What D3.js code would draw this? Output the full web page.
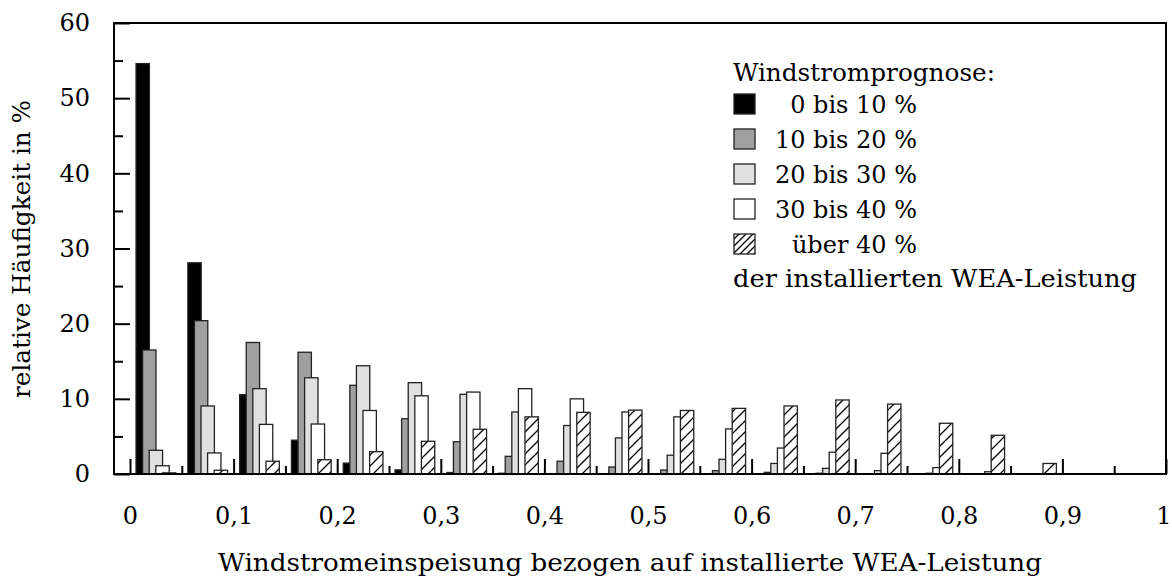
<!DOCTYPE html>
<html>
<head>
<meta charset="utf-8">
<script src="https://cdn.jsdelivr.net/npm/d3@7"></script>
<style>
  body { margin: 0; background: #fff; }
  svg { display: block; font-family: 'DejaVu Serif', serif; }
</style>
</head>
<body>
<svg width="1172" height="582"></svg>
<script>
'use strict';

// class centres of the 0.05-wide bins
var binCenters = [0.025, 0.075, 0.125, 0.175, 0.225, 0.275, 0.325, 0.375, 0.425, 0.475,
                  0.525, 0.575, 0.625, 0.675, 0.725, 0.775, 0.825, 0.875, 0.925, 0.975];

var seriesNames = ['0 bis 10 %', '10 bis 20 %', '20 bis 30 %', '30 bis 40 %', 'über 40 %'];

var prog0to10  = [54.6, 28.1, 10.55, 4.5, 1.45, 0.55, 0.2, 0.1, 0, 0, 0, 0, 0, 0, 0, 0, 0, 0, 0, 0];
var prog10to20 = [16.5, 20.4, 17.5, 16.2, 11.8, 7.35, 4.3, 2.35, 1.7, 0.93, 0.53, 0.45, 0.22, 0.1, 0, 0, 0, 0, 0, 0];
var prog20to30 = [3.15, 9.05, 11.35, 12.8, 14.4, 12.15, 10.6, 8.25, 6.45, 4.8, 2.5, 1.95, 1.4, 0.75, 0.45, 0.1, 0, 0, 0, 0];
var prog30to40 = [1.1, 2.8, 6.6, 6.65, 8.45, 10.4, 10.9, 11.35, 10.0, 8.25, 7.6, 6.0, 3.45, 2.9, 2.75, 0.85, 0.3, 0, 0, 0];
var progOver40 = [0.15, 0.5, 1.7, 1.9, 2.97, 4.35, 5.95, 7.6, 8.2, 8.5, 8.45, 8.73, 9.05, 9.85, 9.3, 6.75, 5.15, 1.4, 0, 0];

var allSeries = [prog0to10, prog10to20, prog20to30, prog30to40, progOver40];

var xMajorTicks = [0, 0.1, 0.2, 0.3, 0.4, 0.5, 0.6, 0.7, 0.8, 0.9, 1];
var xTickLabels = ['0', '0,1', '0,2', '0,3', '0,4', '0,5', '0,6', '0,7', '0,8', '0,9', '1'];
var xMinorTicks = [0.05, 0.15, 0.25, 0.35, 0.45, 0.55, 0.65, 0.75, 0.85, 0.95];
var yMajorTicks = [0, 10, 20, 30, 40, 50, 60];
var yMinorTicks = [5, 15, 25, 35, 45, 55];

var FILLS = ['#000', '#a0a0a0', '#e0e0e0', '#fff', 'url(#hatch)'];
var BOX = { left: 114, right: 1166, top: 23, bottom: 474 };
var BAR_WIDTH = 0.0129;   // in x units
var BAR_STEP = 0.00636;   // offset between overlapping bars
var FONT = 24;

var svg = d3.select('svg');

var x = d3.scaleLinear().domain([0, 1]).range([130, BOX.right]);
var y = d3.scaleLinear().domain([0, 60]).range([BOX.bottom, BOX.top]);

var defs = svg.append('defs');

function addHatch(id, size) {
    var p = defs.append('pattern')
        .attr('id', id)
        .attr('patternUnits', 'userSpaceOnUse')
        .attr('width', size)
        .attr('height', size);
    p.append('rect').attr('width', size).attr('height', size).attr('fill', '#fff');
    p.append('path')
        .attr('d', 'M0,' + size + 'L' + size + ',0M-2,2L2,-2M' + (size - 2) + ',' + (size + 2) + 'L' + (size + 2) + ',' + (size - 2))
        .attr('stroke', '#000')
        .attr('stroke-width', 1.3);
}
addHatch('hatch', 11);
addHatch('hatchSmall', 7);

// bars, series by series so later ones overlap the earlier ones
allSeries.forEach(function(values, s) {
    var rows = values.map(function(v, i) { return { c: binCenters[i], v: v }; })
        .filter(function(d) { return d.v > 0; });

    svg.append('g')
        .selectAll('rect')
        .data(rows)
        .enter()
        .append('rect')
        .attr('x', function(d) { return x(d.c + (s - 2) * BAR_STEP - BAR_WIDTH / 2); })
        .attr('width', function(d) { return x(BAR_WIDTH) - x(0); })
        .attr('y', function(d) { return y(d.v); })
        .attr('height', function(d) { return y(0) - y(d.v); })
        .attr('fill', FILLS[s])
        .attr('stroke', '#222')
        .attr('stroke-width', 1.3);
});

// x axis: major ticks with labels, minor ticks without
var axisX = d3.axisBottom(x)
    .tickValues(xMajorTicks)
    .tickSize(-15)
    .tickPadding(33)
    .tickFormat(function(d, i) { return xTickLabels[i]; });

var axisXMinor = d3.axisBottom(x)
    .tickValues(xMinorTicks)
    .tickSize(-8)
    .tickFormat('');

var axisY = d3.axisLeft(y)
    .tickValues(yMajorTicks)
    .tickSize(-16)
    .tickPadding(24);

var axisYMinor = d3.axisLeft(y)
    .tickValues(yMinorTicks)
    .tickSize(-9)
    .tickFormat('');

[[axisX, 'translate(0,' + BOX.bottom + ')'], [axisXMinor, 'translate(0,' + BOX.bottom + ')'],
 [axisY, 'translate(' + BOX.left + ',0)'], [axisYMinor, 'translate(' + BOX.left + ',0)']].forEach(function(a) {
    var g = svg.append('g').attr('transform', a[1]).call(a[0]);
    g.select('.domain').remove();
    g.selectAll('line').attr('stroke', '#000').attr('stroke-width', 2);
    g.selectAll('text')
        .attr('fill', '#000')
        .style('font-family', "'DejaVu Serif', serif")
        .style('font-size', FONT + 'px');
});

// the last x label sits at the page edge, keep it inside
svg.selectAll('.tick text')
    .filter(function(d) { return d === 1; })
    .attr('text-anchor', 'end')
    .attr('x', 5);

// frame
svg.append('rect')
    .attr('x', BOX.left)
    .attr('y', BOX.top)
    .attr('width', BOX.right - BOX.left)
    .attr('height', BOX.bottom - BOX.top)
    .attr('fill', 'none')
    .attr('stroke', '#000')
    .attr('stroke-width', 2);

// axis titles
svg.append('text')
    .attr('x', 630)
    .attr('y', 571)
    .attr('text-anchor', 'middle')
    .attr('textLength', 824)
    .attr('lengthAdjust', 'spacingAndGlyphs')
    .style('font-size', FONT + 'px')
    .text('Windstromeinspeisung bezogen auf installierte WEA-Leistung');

svg.append('text')
    .attr('transform', 'translate(30,249) rotate(-90)')
    .attr('text-anchor', 'middle')
    .attr('textLength', 298)
    .attr('lengthAdjust', 'spacingAndGlyphs')
    .style('font-size', FONT + 'px')
    .text('relative Häufigkeit in %');

// legend
var legend = svg.append('g');

legend.append('text')
    .attr('x', 733)
    .attr('y', 81)
    .attr('textLength', 262)
    .attr('lengthAdjust', 'spacingAndGlyphs')
    .style('font-size', FONT + 'px')
    .text('Windstromprognose:');

var rowY = d3.scaleLinear().domain([0, 1]).range([113, 148]);

seriesNames.forEach(function(name, i) {
    legend.append('rect')
        .attr('x', 734)
        .attr('y', rowY(i) - 19)
        .attr('width', 21)
        .attr('height', 20)
        .attr('fill', i === 4 ? 'url(#hatchSmall)' : FILLS[i])
        .attr('stroke', '#222')
        .attr('stroke-width', 1.3);

    legend.append('text')
        .attr('x', 917)
        .attr('y', rowY(i))
        .attr('text-anchor', 'end')
        .style('font-size', FONT + 'px')
        .text(name);
});

legend.append('text')
    .attr('x', 733)
    .attr('y', rowY(5) - 1)
    .attr('textLength', 404)
    .attr('lengthAdjust', 'spacingAndGlyphs')
    .style('font-size', FONT + 'px')
    .text('der installierten WEA-Leistung');
</script>
</body>
</html>
